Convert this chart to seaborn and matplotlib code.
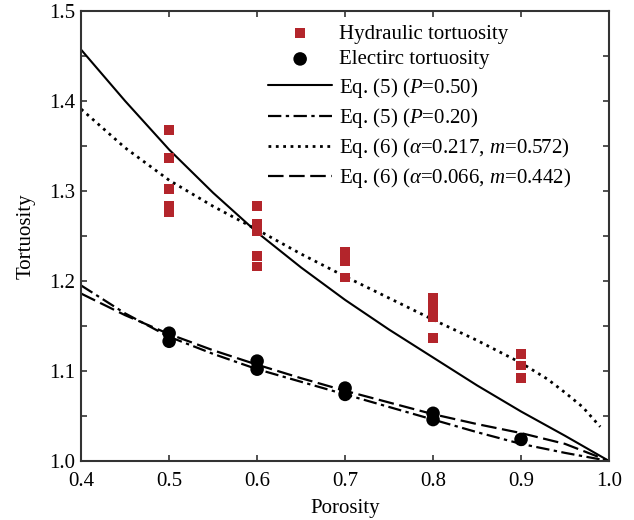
import numpy as np
import pandas as pd
import matplotlib
matplotlib.use("Agg")
import matplotlib.pyplot as plt
import seaborn as sns
from matplotlib.ticker import MultipleLocator

# ---- data ----
hyd_x = [0.5, 0.5, 0.5, 0.5, 0.5,
         0.6, 0.6, 0.6, 0.6, 0.6,
         0.7, 0.7, 0.7,
         0.8, 0.8, 0.8, 0.8,
         0.9, 0.9, 0.9]
hyd_y = [1.368, 1.337, 1.302, 1.283, 1.277,
         1.283, 1.263, 1.255, 1.228, 1.216,
         1.232, 1.222, 1.204,
         1.181, 1.171, 1.160, 1.137,
         1.119, 1.106, 1.092]

ele_x = [0.5, 0.5, 0.6, 0.6, 0.7, 0.7, 0.8, 0.8, 0.9]
ele_y = [1.142, 1.133, 1.111, 1.102, 1.081, 1.074, 1.053, 1.046, 1.024]

eq5a_x = [0.40, 0.45, 0.50, 0.55, 0.60, 0.65, 0.70, 0.75, 0.80, 0.85, 0.90, 0.95, 1.00]
eq5a_y = [1.457, 1.400, 1.346, 1.298, 1.254, 1.215, 1.179, 1.146, 1.115, 1.084, 1.055, 1.028, 1.000]

eq5b_x = [0.40, 0.45, 0.50, 0.55, 0.60, 0.65, 0.70, 0.75, 0.80, 0.85, 0.90, 0.95, 1.00]
eq5b_y = [1.195, 1.164, 1.138, 1.119, 1.102, 1.088, 1.074, 1.060, 1.046, 1.032, 1.019, 1.009, 1.000]

eq6a_x = [0.40, 0.45, 0.50, 0.55, 0.60, 0.65, 0.70, 0.75, 0.80, 0.85, 0.90, 0.93, 0.95, 0.97, 0.99]
eq6a_y = [1.391, 1.348, 1.312, 1.283, 1.257, 1.230, 1.205, 1.181, 1.157, 1.134, 1.109, 1.091, 1.076, 1.060, 1.038]

eq6b_x = [0.40, 0.45, 0.50, 0.55, 0.60, 0.65, 0.70, 0.75, 0.80, 0.85, 0.90, 0.95, 1.00]
eq6b_y = [1.186, 1.162, 1.141, 1.123, 1.107, 1.092, 1.078, 1.065, 1.052, 1.041, 1.031, 1.019, 1.000]

labels = ["Hydraulic tortuosity", "Electirc tortuosity",
          "Eq. (5) ($P$=0.50)", "Eq. (5) ($P$=0.20)",
          "Eq. (6) ($\\alpha$=0.217, $m$=0.572)",
          "Eq. (6) ($\\alpha$=0.066, $m$=0.442)"]

# ---- style ----
sns.set_theme(style="white")
plt.rcParams["font.family"] = ["Liberation Serif", "DejaVu Serif"]
plt.rcParams["mathtext.fontset"] = "custom"
plt.rcParams["mathtext.rm"] = "Liberation Serif"
plt.rcParams["mathtext.it"] = "Liberation Serif:italic"

FS = 15

fig = plt.figure(figsize=(6.34, 5.2), dpi=100)
ax = fig.add_axes([0.128, 0.1135, 0.8326, 0.8653])

red = "#b3252b"
sns.scatterplot(x=hyd_x, y=hyd_y, ax=ax, marker="s", s=48, color=red,
                edgecolor="none", label=labels[0], zorder=3)
sns.scatterplot(x=ele_x, y=ele_y, ax=ax, marker="o", s=95, color="black",
                edgecolor="none", label=labels[1], zorder=3)
sns.lineplot(x=eq5a_x, y=eq5a_y, ax=ax, color="black", lw=1.5,
             linestyle="-", label=labels[2], sort=False)
sns.lineplot(x=eq5b_x, y=eq5b_y, ax=ax, color="black", lw=1.6,
             dashes=False, label=labels[3], sort=False)
ax.lines[-1].set_dashes((6, 2, 1.5, 2))
sns.lineplot(x=eq6a_x, y=eq6a_y, ax=ax, color="black", lw=2.0,
             label=labels[4], sort=False)
ax.lines[-1].set_linestyle(":")
sns.lineplot(x=eq6b_x, y=eq6b_y, ax=ax, color="black", lw=1.6,
             label=labels[5], sort=False)
ax.lines[-1].set_dashes((7, 2.5))

ax.set_xlim(0.4, 1.0)
ax.set_ylim(1.0, 1.5)
ax.xaxis.set_major_locator(MultipleLocator(0.1))
ax.yaxis.set_major_locator(MultipleLocator(0.1))
ax.yaxis.set_minor_locator(MultipleLocator(0.05))
ax.xaxis.set_major_formatter(matplotlib.ticker.FormatStrFormatter("%.1f"))
ax.yaxis.set_major_formatter(matplotlib.ticker.FormatStrFormatter("%.1f"))
ax.tick_params(which="both", direction="in", top=True, right=True,
               bottom=True, left=True, length=4, width=1.2,
               labelsize=FS, colors="black")
ax.tick_params(which="both", color="#333333")
ax.tick_params(axis="x", pad=8)
ax.tick_params(axis="y", pad=4)
for sp in ax.spines.values():
    sp.set_color("#333333")
    sp.set_linewidth(1.5)

ax.set_xlabel("Porosity", fontsize=FS, color="black", labelpad=6)
ax.set_ylabel("Tortuosity", fontsize=FS, color="black", labelpad=10)

leg = ax.legend(loc="upper left", bbox_to_anchor=(0.33, 0.999), frameon=False,
                fontsize=FS, handlelength=3.1, handletextpad=0.3,
                labelspacing=0.3, borderaxespad=0.2)
for t in leg.get_texts():
    t.set_color("black")

fig.savefig("out.png", dpi=100)
